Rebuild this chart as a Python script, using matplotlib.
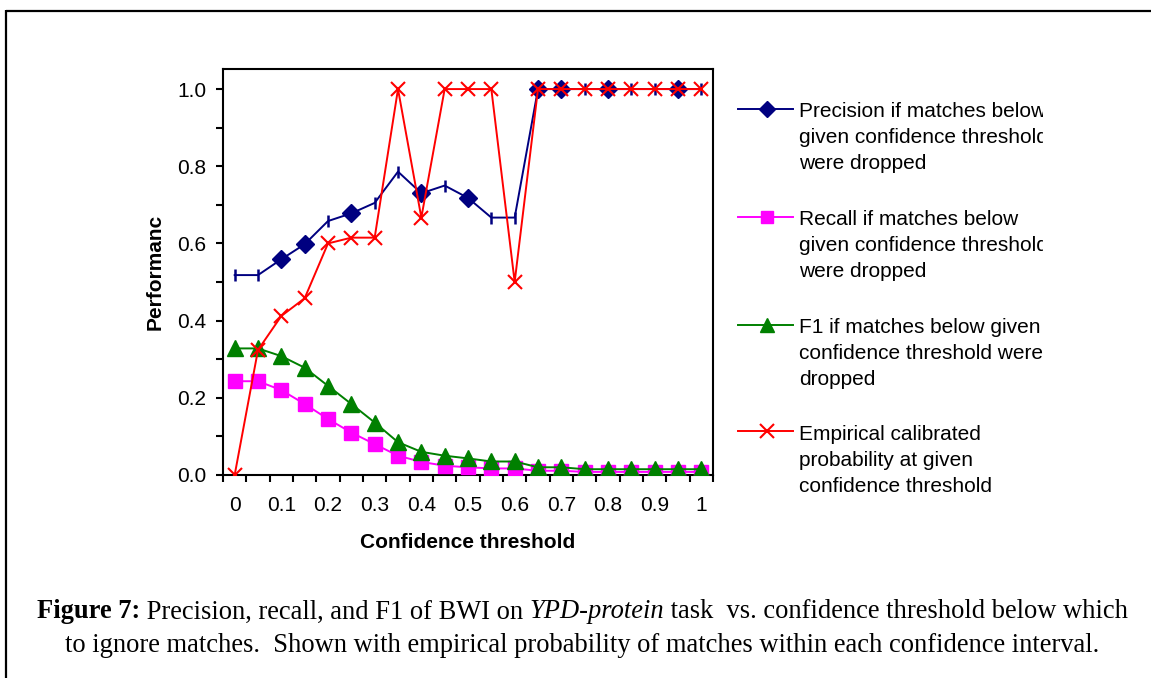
import numpy as np
import matplotlib.pyplot as plt
from matplotlib.ticker import FormatStrFormatter

# Data
thresholds = [0.0, 0.05, 0.1, 0.15, 0.2, 0.25, 0.3, 0.35, 0.4, 0.45, 0.5,
              0.55, 0.6, 0.65, 0.7, 0.75, 0.8, 0.85, 0.9, 0.95, 1.0]
precision = [0.518, 0.518, 0.559, 0.598, 0.658, 0.678, 0.705, 0.786, 0.730, 0.750, 0.718,
             0.667, 0.667, 1.0, 1.0, 1.0, 1.0, 1.0, 1.0, 1.0, 1.0]
recall = [0.243, 0.243, 0.220, 0.184, 0.145, 0.110, 0.080, 0.050, 0.034, 0.024, 0.020,
          0.017, 0.017, 0.011, 0.011, 0.008, 0.008, 0.008, 0.008, 0.008, 0.008]
f1 = [0.328, 0.328, 0.308, 0.278, 0.231, 0.184, 0.136, 0.085, 0.060, 0.050, 0.043,
      0.035, 0.035, 0.020, 0.020, 0.015, 0.015, 0.015, 0.015, 0.015, 0.015]
empirical = [0.0, 0.324, 0.412, 0.458, 0.600, 0.615, 0.615, 1.0, 0.667, 1.0, 1.0,
             1.0, 0.5, 1.0, 1.0, 1.0, 1.0, 1.0, 1.0, 1.0, 1.0]

xtick_labels = ["0", "0.1", "0.2", "0.3", "0.4", "0.5", "0.6", "0.7", "0.8", "0.9", "1"]
legend_labels = [
    "Precision if matches below\ngiven confidence threshold\nwere dropped",
    "Recall if matches below\ngiven confidence threshold\nwere dropped",
    "F1 if matches below given\nconfidence threshold were\ndropped",
    "Empirical calibrated\nprobability at given\nconfidence threshold",
]

# precision points that show up as diamonds, the rest render as thin bars
diamond_idx = [2, 3, 5, 8, 10, 13, 14, 16, 19]

NAVY = "#000080"
MAGENTA = "#FF00FF"
GREEN = "#008000"
RED = "#FF0000"
LW = 1.4

W, H = 1151, 678
plt.rcParams["font.family"] = ["Liberation Sans", "DejaVu Sans"]
fig = plt.figure(figsize=(W / 100, H / 100), dpi=100)


def px(x0, y0, x1, y1):
    # pixel box (top-left origin) -> figure fraction rect
    return [x0 / W, 1 - y1 / H, (x1 - x0) / W, (y1 - y0) / H]


# background overlay for the page border
bg = fig.add_axes([0, 0, 1, 1], zorder=-1)
bg.set_xlim(0, W)
bg.set_ylim(H, 0)
bg.axis("off")
bg.plot([6.5, W], [11, 11], color="black", lw=1.6, solid_capstyle="butt")
bg.plot([6.5, 6.5], [10, H], color="black", lw=1.6, solid_capstyle="butt")

# main chart
ax = fig.add_axes(px(223, 69, 713, 475))
x = np.array(thresholds)
ax.plot(x, precision, color=NAVY, lw=LW, zorder=3)
prec = np.array(precision)
mask = np.zeros(len(x), dtype=bool)
mask[diamond_idx] = True
ax.plot(x[mask], prec[mask], ls="none", marker="D", ms=9, color=NAVY, zorder=3)
ax.plot(x[~mask], prec[~mask], ls="none", marker="|", ms=9, mew=1.8, color=NAVY, zorder=3)

ax.plot(x, recall, color=MAGENTA, lw=LW, marker="s", ms=9.5, zorder=4)
ax.plot(x, f1, color=GREEN, lw=LW, marker="^", ms=11, zorder=5)
ax.plot(x, empirical, color=RED, lw=LW, marker="x", ms=10, mew=1.5, zorder=6)

ax.set_xlim(-0.025, 1.025)
ax.set_ylim(0, 1.052)
for s in ax.spines.values():
    s.set_linewidth(1.5)

ax.set_xticks(np.linspace(0, 1, 11), xtick_labels)
ax.set_xticks(np.arange(-0.025, 1.03, 0.05), minor=True)
ax.tick_params(axis="x", which="major", length=0, pad=15, labelsize=15)
ax.tick_params(axis="x", which="minor", length=5, width=1.5, direction="out")

ax.set_yticks(np.arange(0, 1.01, 0.2))
ax.set_yticks(np.arange(0.1, 1.0, 0.2), minor=True)
ax.yaxis.set_major_formatter(FormatStrFormatter("%.1f"))
ax.tick_params(axis="y", which="both", length=5, width=1.5, direction="out", pad=7, labelsize=15)

fig.text(468 / W, 1 - 542 / H, "Confidence threshold", fontsize=15, fontweight="bold",
         ha="center", va="center")
fig.text(155 / W, 1 - 272 / H, "Performanc", fontsize=15, fontweight="bold",
         rotation=90, ha="center", va="center")

# legend drawn by hand so the text is clipped like in the source
lax = fig.add_axes(px(730, 60, 1043, 510))
lax.set_xlim(730, 1043)
lax.set_ylim(510, 60)
lax.axis("off")
styles = [
    dict(color=NAVY, marker="D", ms=8),
    dict(color=MAGENTA, marker="s", ms=9),
    dict(color=GREEN, marker="^", ms=10),
    dict(color=RED, marker="x", ms=10, mew=1.5),
]
entry_y = [109, 217, 325, 431]
for label, st, y0 in zip(legend_labels, styles, entry_y):
    lax.plot([738, 793], [y0, y0], lw=LW, color=st["color"])
    lax.plot([767], [y0], ls="none", **st)
    for i, line in enumerate(label.split("\n")):
        lax.text(799, y0 + 3 + i * 26, line, fontsize=15, ha="left", va="center",
                 clip_on=True)

# caption with mixed bold / italic pieces, centered line by line
serif = ["Liberation Serif", "DejaVu Serif"]
caption = [
    [("Figure 7:", "bold", "normal"),
     (" Precision, recall, and F1 of BWI on ", "normal", "normal"),
     ("YPD-protein", "normal", "italic"),
     (" task  vs. confidence threshold below which", "normal", "normal")],
    [("to ignore matches.  Shown with empirical probability of matches within each confidence interval.",
      "normal", "normal")],
]
caption_y = [612, 645]
renderer = fig.canvas.get_renderer()
for pieces, cy in zip(caption, caption_y):
    texts = []
    for s, wt, st in pieces:
        t = fig.text(0, 1 - cy / H, s, fontsize=19.1, family=serif, fontweight=wt,
                     fontstyle=st, ha="left", va="center")
        texts.append(t)
    widths = [t.get_window_extent(renderer).width for t in texts]
    xpos = 582.5 - sum(widths) / 2
    for t, w in zip(texts, widths):
        t.set_x(xpos / W)
        xpos += w

fig.savefig("out.png", dpi=100)
